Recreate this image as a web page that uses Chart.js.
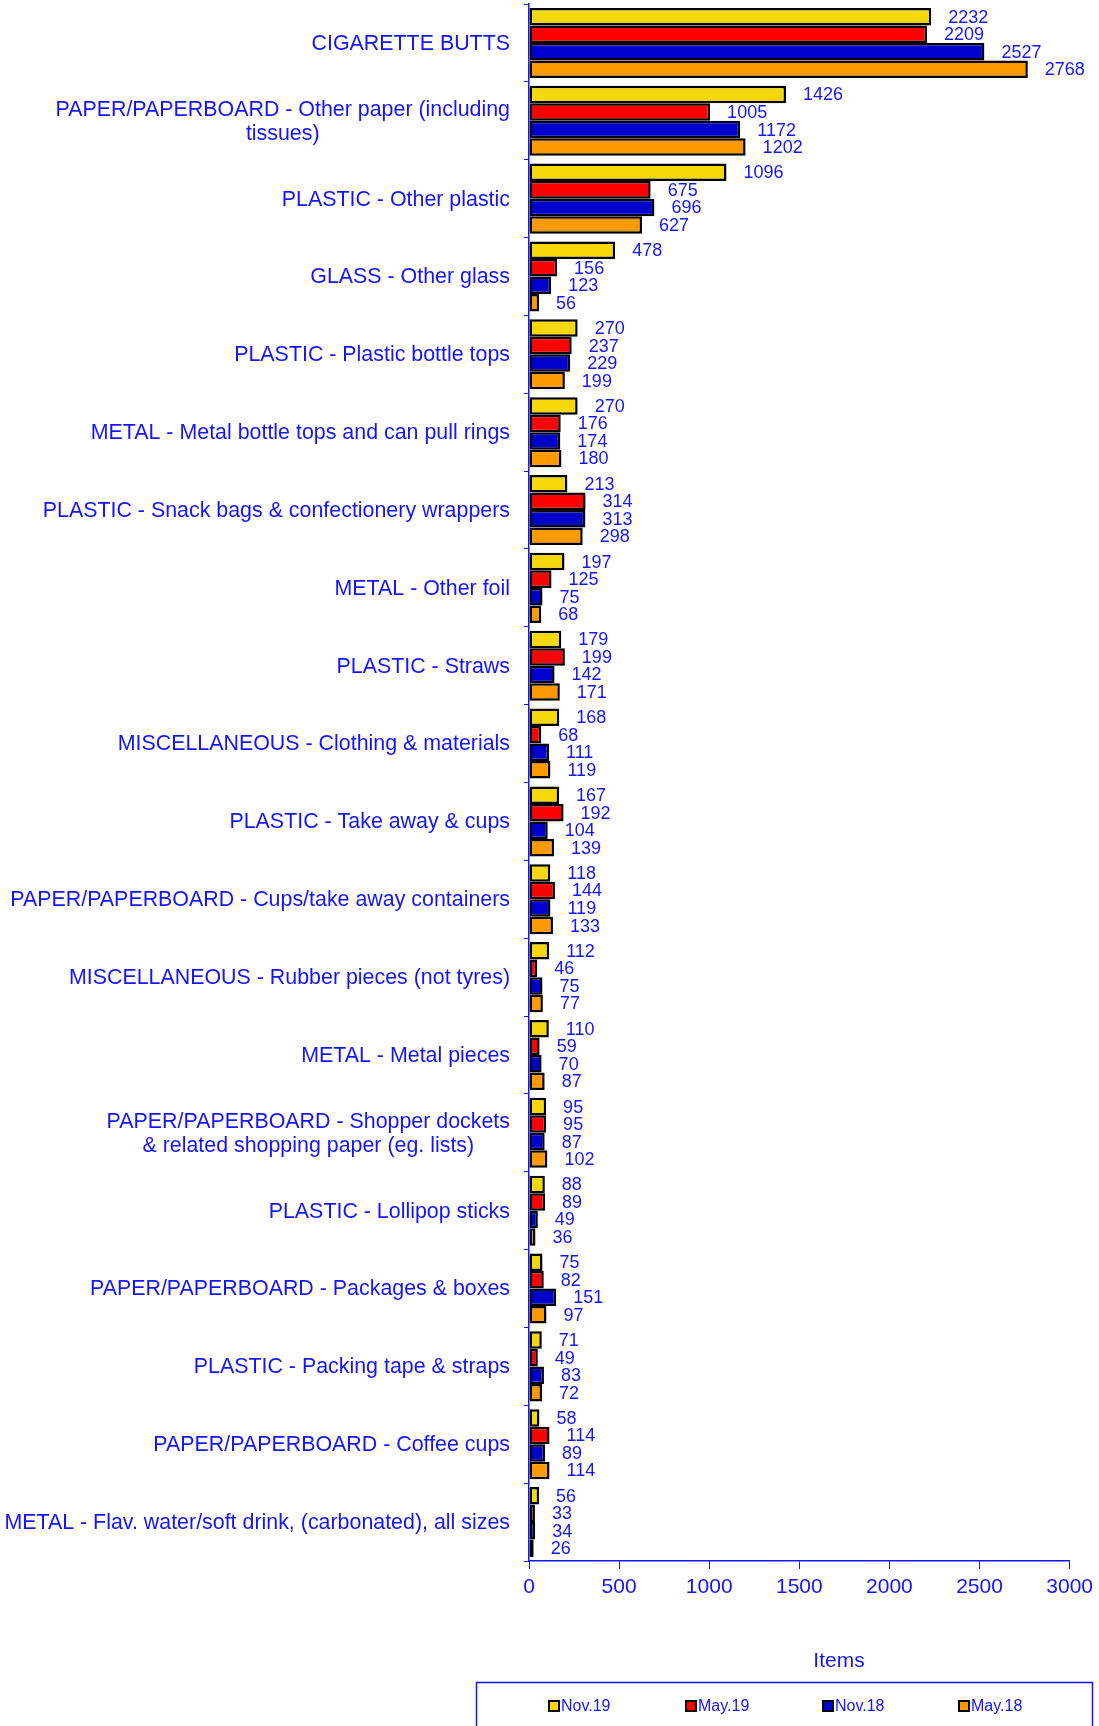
<!DOCTYPE html>
<html>
<head>
<meta charset="utf-8">
<script src="https://cdn.jsdelivr.net/npm/chart.js@4.4.1/dist/chart.umd.min.js"></script>
<style>
  html, body { margin: 0; padding: 0; background: #fff; }
  #wrap { width: 1099px; height: 1726px; }
</style>
</head>
<body>
<div id="wrap"><canvas id="litter" width="1099" height="1726"></canvas></div>
<script>
// Litter counts per survey.
const categories = [
  ["CIGARETTE BUTTS"],
  ["PAPER/PAPERBOARD - Other paper (including", "tissues)"],
  ["PLASTIC - Other plastic"],
  ["GLASS - Other glass"],
  ["PLASTIC - Plastic bottle tops"],
  ["METAL - Metal bottle tops and can pull rings"],
  ["PLASTIC - Snack bags & confectionery wrappers"],
  ["METAL - Other foil"],
  ["PLASTIC - Straws"],
  ["MISCELLANEOUS - Clothing & materials"],
  ["PLASTIC - Take away & cups"],
  ["PAPER/PAPERBOARD - Cups/take away containers"],
  ["MISCELLANEOUS - Rubber pieces (not tyres)"],
  ["METAL - Metal pieces"],
  ["PAPER/PAPERBOARD - Shopper dockets", "& related shopping paper (eg. lists)"],
  ["PLASTIC - Lollipop sticks"],
  ["PAPER/PAPERBOARD - Packages & boxes"],
  ["PLASTIC - Packing tape & straps"],
  ["PAPER/PAPERBOARD - Coffee cups"],
  ["METAL - Flav. water/soft drink, (carbonated), all sizes"],
];

const nov19 = [2232, 1426, 1096, 478, 270, 270, 213, 197, 179, 168, 167, 118, 112, 110, 95, 88, 75, 71, 58, 56];
const may19 = [2209, 1005, 675, 156, 237, 176, 314, 125, 199, 68, 192, 144, 46, 59, 95, 89, 82, 49, 114, 33];
const nov18 = [2527, 1172, 696, 123, 229, 174, 313, 75, 142, 111, 104, 119, 75, 70, 87, 49, 151, 83, 89, 34];
const may18 = [2768, 1202, 627, 56, 199, 180, 298, 68, 171, 119, 139, 133, 77, 87, 102, 36, 97, 72, 114, 26];

const seriesNames = ["Nov.19", "May.19", "Nov.18", "May.18"];
const seriesColors = ["#f5d80a", "#ff0000", "#0000cc", "#ff9900"];
const xTicks = [0, 500, 1000, 1500, 2000, 2500, 3000];

const TEXT = "#1414ff";
const FONT = "'Liberation Sans', Arial, sans-serif";

// value labels, y labels, axis title and the boxed legend
const decorations = {
  id: "decorations",
  afterDatasetsDraw(chart) {
    const ctx = chart.ctx;
    ctx.save();
    ctx.fillStyle = TEXT;
    ctx.font = "18px " + FONT;
    ctx.textAlign = "left";
    ctx.textBaseline = "middle";
    chart.data.datasets.forEach((ds, di) => {
      chart.getDatasetMeta(di).data.forEach((bar, i) => {
        ctx.fillText(String(ds.data[i]), bar.x + 17, bar.y + 1);
      });
    });
    ctx.restore();
  },
  afterDraw(chart) {
    const ctx = chart.ctx;
    const yScale = chart.scales.y;
    const area = chart.chartArea;
    ctx.save();
    ctx.fillStyle = TEXT;

    // category labels, lines centred on each other, block right-aligned to axis
    ctx.font = "21.4px " + FONT;
    ctx.textAlign = "center";
    ctx.textBaseline = "middle";
    const lineH = 24;
    categories.forEach((lines, i) => {
      const y = yScale.getPixelForValue(i);
      const maxW = Math.max(...lines.map((l) => ctx.measureText(l).width));
      const cx = area.left - 19 - maxW / 2;
      lines.forEach((l, k) => {
        ctx.fillText(l, cx, y + (k - (lines.length - 1) / 2) * lineH + 1);
      });
    });

    // axis title
    ctx.font = "21px " + FONT;
    ctx.fillText("Items", 839, 1661);

    // legend box
    ctx.strokeStyle = "#1414ff";
    ctx.lineWidth = 1.5;
    ctx.strokeRect(476.5, 1682.5, 616, 60);
    ctx.font = "16px " + FONT;
    ctx.textAlign = "left";
    const legendX = [549, 686, 823, 959];
    seriesNames.forEach((name, i) => {
      const x = legendX[i];
      const y = 1706;
      ctx.fillStyle = seriesColors[i];
      ctx.fillRect(x, y - 5, 10, 10);
      ctx.strokeStyle = "#000";
      ctx.lineWidth = 2;
      ctx.strokeRect(x, y - 5, 10, 10);
      ctx.fillStyle = TEXT;
      ctx.fillText(name, x + 12, y + 1);
    });
    ctx.restore();
  },
};

new Chart(document.getElementById("litter").getContext("2d"), {
  type: "bar",
  data: {
    labels: categories,
    datasets: seriesNames.map((name, i) => ({
      label: name,
      data: [nov19, may19, nov18, may18][i],
      backgroundColor: seriesColors[i],
      borderColor: "#000",
      borderWidth: 2.5,
      borderSkipped: false,
      barPercentage: 1,
      categoryPercentage: 0.9,
    })),
  },
  options: {
    indexAxis: "y",
    responsive: false,
    animation: false,
    layout: { padding: { top: 4, right: 27, left: 0, bottom: 0 } },
    plugins: {
      legend: { display: false },
      tooltip: { enabled: false },
    },
    scales: {
      x: {
        min: 0,
        max: 3000,
        afterBuildTicks(scale) {
          scale.ticks = xTicks.map((v) => ({ value: v }));
        },
        afterFit(scale) {
          scale.height = 165;
        },
        border: { color: "#1414ff", width: 1.5 },
        grid: { drawOnChartArea: false, drawTicks: true, tickLength: 8, color: "#1414ff" },
        ticks: {
          color: TEXT,
          padding: 6,
          font: { family: FONT, size: 21 },
          maxRotation: 0,
          callback: (v) => String(v),
        },
      },
      y: {
        afterFit(scale) {
          scale.width = 529;
        },
        border: { color: "#1414ff", width: 1.5 },
        grid: { drawOnChartArea: false, drawTicks: true, tickLength: 5, color: "#1414ff", offset: true },
        ticks: { display: false },
      },
    },
  },
  plugins: [decorations],
});
</script>
</body>
</html>
